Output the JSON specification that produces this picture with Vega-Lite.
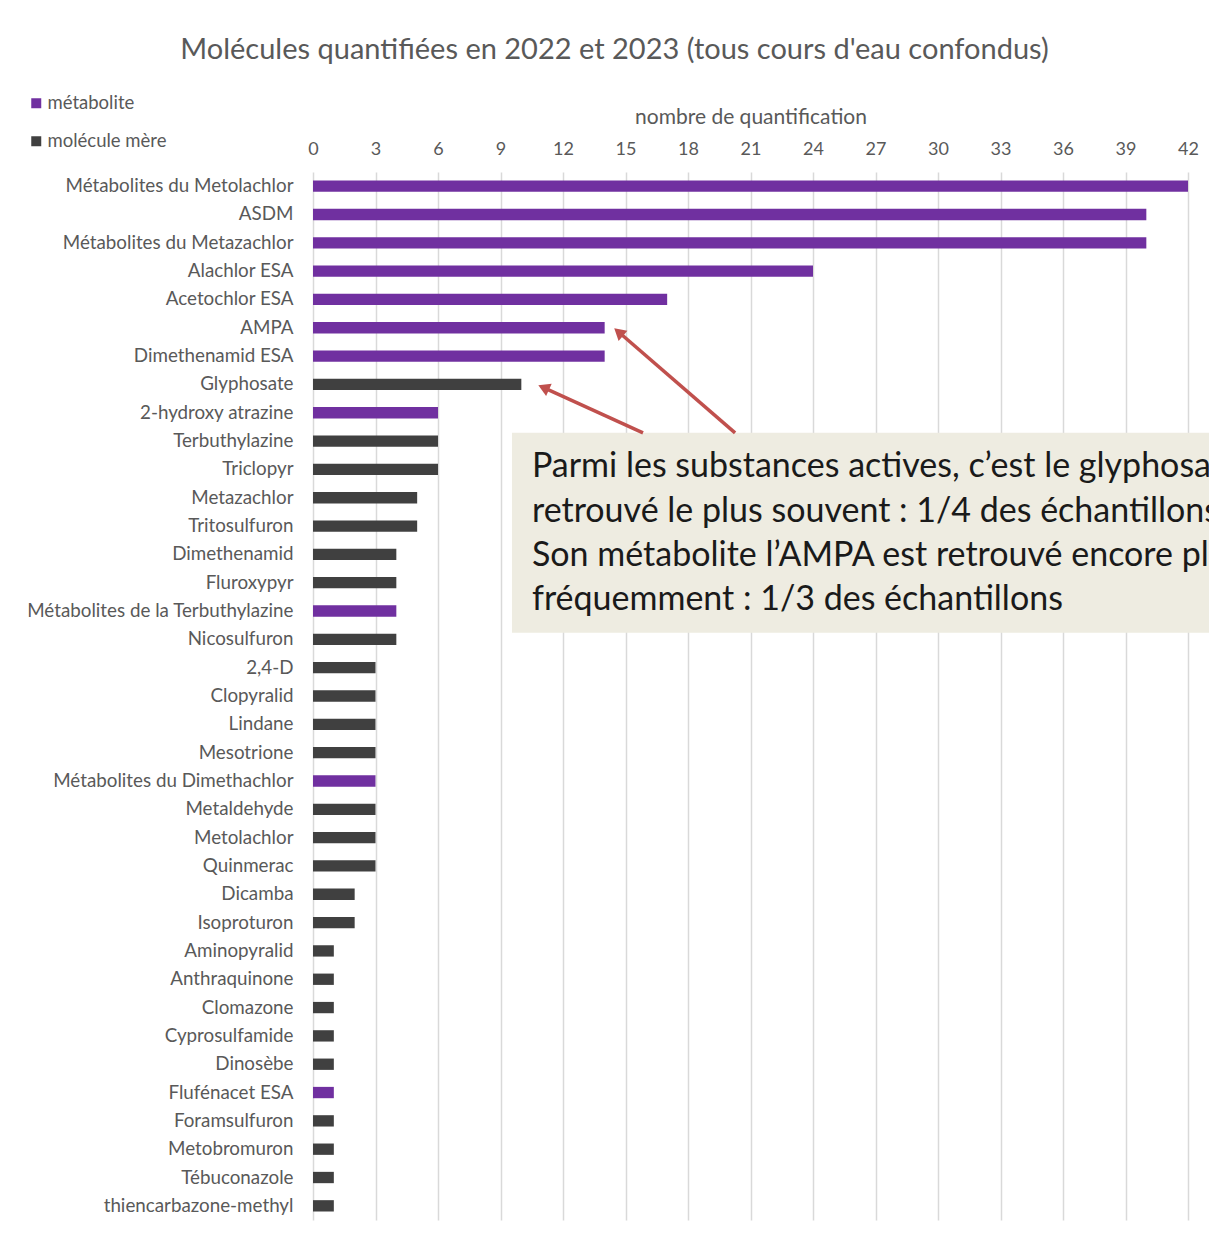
{
  "$schema": "https://vega.github.io/schema/vega-lite/v6.json",
  "width": 875,
  "height": 1048,
  "autosize": {"type": "none"},
  "padding": {"left": 313, "top": 172, "right": 21, "bottom": 21},
  "background": "white",
  "title": {
    "text": "Molécules quantifiées en 2022 et 2023 (tous cours d'eau confondus)",
    "fontSize": 29, "font": "Lato", "fontWeight": "normal", "color": "#595959",
    "anchor": "middle", "dx": -136, "offset": 29
  },
  "config": {
    "font": "Lato",
    "view": {"stroke": null},
    "axis": {"labelColor": "#595959", "titleColor": "#595959", "labelFont": "Lato", "titleFont": "Lato"}
  },
  "datasets": {
    "bars": [
      {"molecule": "Métabolites du Metolachlor", "n": 42, "type": "métabolite"},
      {"molecule": "ASDM", "n": 40, "type": "métabolite"},
      {"molecule": "Métabolites du Metazachlor", "n": 40, "type": "métabolite"},
      {"molecule": "Alachlor ESA", "n": 24, "type": "métabolite"},
      {"molecule": "Acetochlor ESA", "n": 17, "type": "métabolite"},
      {"molecule": "AMPA", "n": 14, "type": "métabolite"},
      {"molecule": "Dimethenamid ESA", "n": 14, "type": "métabolite"},
      {"molecule": "Glyphosate", "n": 10, "type": "molécule mère"},
      {"molecule": "2-hydroxy atrazine", "n": 6, "type": "métabolite"},
      {"molecule": "Terbuthylazine", "n": 6, "type": "molécule mère"},
      {"molecule": "Triclopyr", "n": 6, "type": "molécule mère"},
      {"molecule": "Metazachlor", "n": 5, "type": "molécule mère"},
      {"molecule": "Tritosulfuron", "n": 5, "type": "molécule mère"},
      {"molecule": "Dimethenamid", "n": 4, "type": "molécule mère"},
      {"molecule": "Fluroxypyr", "n": 4, "type": "molécule mère"},
      {"molecule": "Métabolites de la Terbuthylazine", "n": 4, "type": "métabolite"},
      {"molecule": "Nicosulfuron", "n": 4, "type": "molécule mère"},
      {"molecule": "2,4-D", "n": 3, "type": "molécule mère"},
      {"molecule": "Clopyralid", "n": 3, "type": "molécule mère"},
      {"molecule": "Lindane", "n": 3, "type": "molécule mère"},
      {"molecule": "Mesotrione", "n": 3, "type": "molécule mère"},
      {"molecule": "Métabolites du Dimethachlor", "n": 3, "type": "métabolite"},
      {"molecule": "Metaldehyde", "n": 3, "type": "molécule mère"},
      {"molecule": "Metolachlor", "n": 3, "type": "molécule mère"},
      {"molecule": "Quinmerac", "n": 3, "type": "molécule mère"},
      {"molecule": "Dicamba", "n": 2, "type": "molécule mère"},
      {"molecule": "Isoproturon", "n": 2, "type": "molécule mère"},
      {"molecule": "Aminopyralid", "n": 1, "type": "molécule mère"},
      {"molecule": "Anthraquinone", "n": 1, "type": "molécule mère"},
      {"molecule": "Clomazone", "n": 1, "type": "molécule mère"},
      {"molecule": "Cyprosulfamide", "n": 1, "type": "molécule mère"},
      {"molecule": "Dinosèbe", "n": 1, "type": "molécule mère"},
      {"molecule": "Flufénacet ESA", "n": 1, "type": "métabolite"},
      {"molecule": "Foramsulfuron", "n": 1, "type": "molécule mère"},
      {"molecule": "Metobromuron", "n": 1, "type": "molécule mère"},
      {"molecule": "Tébuconazole", "n": 1, "type": "molécule mère"},
      {"molecule": "thiencarbazone-methyl", "n": 1, "type": "molécule mère"}
    ],
    "box": [{"x1": 9.55, "x2": 46, "y1": 9.21, "y2": 16.27}],
    "lines": [
      {"txt": "Parmi les substances actives, c’est le glyphosate qui est", "x": 10.51, "y": 10.41},
      {"txt": "retrouvé le plus souvent : 1/4 des échantillons.", "x": 10.51, "y": 12.0},
      {"txt": "Son métabolite l’AMPA est retrouvé encore plus", "x": 10.51, "y": 13.55},
      {"txt": "fréquemment : 1/3 des échantillons", "x": 10.51, "y": 15.1}
    ],
    "arrows": [
      {"x1": 20.26, "y1": 9.21, "x2": 14.67, "y2": 5.65},
      {"x1": 15.84, "y1": 9.21, "x2": 11.07, "y2": 7.61}
    ],
    "heads": [
      {"x": 14.67, "y": 5.65, "ang": 311},
      {"x": 11.07, "y": 7.61, "ang": 294.6}
    ]
  },
  "layer": [
    {
      "data": {"name": "bars"},
      "mark": {"type": "bar"},
      "encoding": {
        "y": {
          "field": "molecule", "type": "nominal", "sort": null,
          "scale": {"paddingInner": 0.6, "paddingOuter": 0.3},
          "axis": {"title": null, "ticks": false, "domain": false, "labelFontSize": 18.8, "labelPadding": 20, "labelLimit": 0, "labelColor": "#595959", "grid": false}
        },
        "x": {
          "field": "n", "type": "quantitative",
          "scale": {"domain": [0, 42], "nice": false},
          "axis": {
            "orient": "top", "values": [0,3,6,9,12,15,18,21,24,27,30,33,36,39,42],
            "title": "nombre de quantification", "titleFontSize": 21, "titleFontWeight": "normal", "titlePadding": 13,
            "labelFontSize": 18, "labelPadding": 14, "labelFlush": false, "ticks": false, "domain": false,
            "grid": true, "gridColor": "#d9d9d9", "gridWidth": 1.5
          }
        },
        "color": {
          "field": "type", "type": "nominal",
          "scale": {"domain": ["métabolite", "molécule mère"], "range": ["#7030A0", "#404040"]},
          "legend": {
            "title": null, "orient": "none", "legendX": -286, "legendY": -78,
            "symbolType": "square", "symbolSize": 100, "symbolStrokeWidth": 0,
            "labelFontSize": 18.5, "labelColor": "#595959", "rowPadding": 19, "labelOffset": 2
          }
        }
      }
    },
    {
      "layer": [
        {
          "data": {"name": "box"},
          "mark": {"type": "rect", "color": "#EEECE1"},
          "encoding": {
            "x": {"field": "x1", "type": "quantitative"},
            "x2": {"field": "x2"},
            "y": {"field": "y1", "type": "quantitative", "scale": {"domain": [0, 37], "reverse": true, "nice": false, "zero": false}, "axis": null},
            "y2": {"field": "y2"}
          }
        },
        {
          "data": {"name": "lines"},
          "mark": {"type": "text", "align": "left", "baseline": "middle", "fontSize": 34, "font": "Lato", "color": "#1a1a1a"},
          "encoding": {
            "x": {"field": "x", "type": "quantitative"},
            "y": {"field": "y", "type": "quantitative"},
            "text": {"field": "txt"}
          }
        },
        {
          "data": {"name": "arrows"},
          "mark": {"type": "rule", "color": "#C0504D", "strokeWidth": 3.5},
          "encoding": {
            "x": {"field": "x1", "type": "quantitative"},
            "x2": {"field": "x2"},
            "y": {"field": "y1", "type": "quantitative"},
            "y2": {"field": "y2"}
          }
        },
        {
          "data": {"name": "heads"},
          "mark": {"type": "point", "shape": "triangle-up", "filled": true, "color": "#C0504D", "size": 180, "opacity": 1},
          "encoding": {
            "x": {"field": "x", "type": "quantitative"},
            "y": {"field": "y", "type": "quantitative"},
            "angle": {"field": "ang", "type": "quantitative", "scale": null}
          }
        }
      ]
    }
  ],
  "resolve": {"scale": {"y": "independent"}, "axis": {"y": "independent"}}
}
